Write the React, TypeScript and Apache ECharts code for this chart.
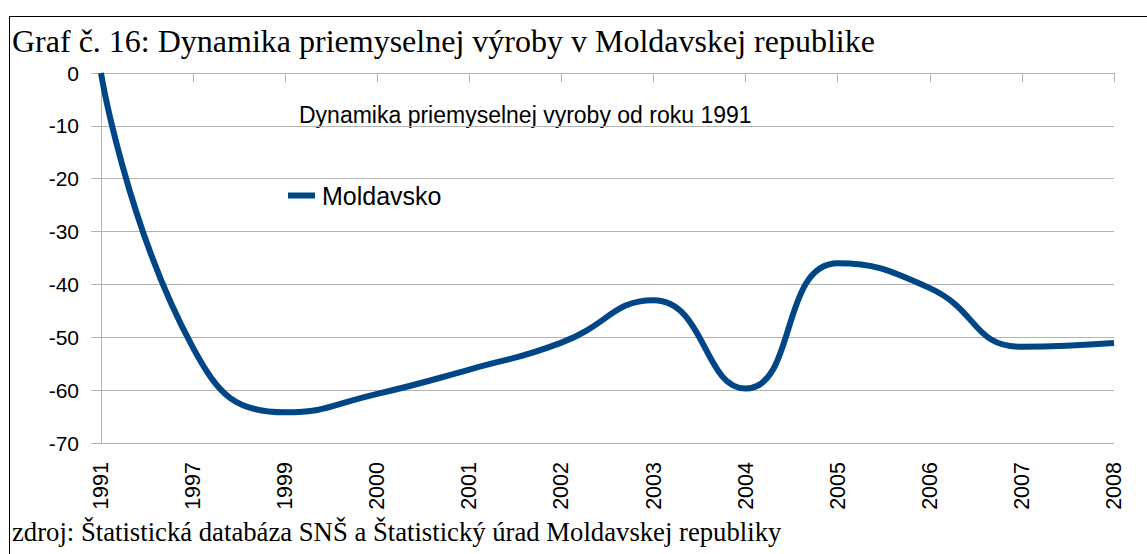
import React, { useEffect, useRef } from "react";
import * as echarts from "echarts";

const categories = ["1991", "1997", "1999", "2000", "2001", "2002", "2003", "2004", "2005", "2006", "2007", "2008"];
const moldavsko = [0, -52, -64.2, -60.7, -56.1, -51, -43, -59.7, -36, -40.7, -51.8, -51.1];
const seriesName = "Moldavsko";
const yMin = -70;
const yMax = 0;
const yStep = 10;
const titleText = "Graf č. 16: Dynamika priemyselnej výroby v Moldavskej republike";
const subtitleText = "Dynamika priemyselnej vyroby od roku 1991";
const sourceText = "zdroj: Štatistická databáza SNŠ a Štatistický úrad Moldavskej republiky";

export default function App() {
  const ref = useRef<HTMLDivElement>(null);
  useEffect(() => {
    if (!ref.current) return;
    const chart = echarts.init(ref.current, undefined, { renderer: "svg" });
    const sans = "'Liberation Sans', Arial, sans-serif";
    const serif = "'Liberation Serif', 'Times New Roman', serif";
    chart.setOption({
      animation: false,
      backgroundColor: "#ffffff",
      grid: { left: 101, right: 33, top: 73, bottom: 111, containLabel: false },
      legend: {
        left: 288,
        top: 183,
        padding: 0,
        icon: "rect",
        itemWidth: 27,
        itemHeight: 6,
        textStyle: { fontFamily: sans, fontSize: 25, color: "#000", padding: [0, 0, 0, 2] },
        data: [seriesName],
      },
      xAxis: {
        type: "category",
        data: categories,
        boundaryGap: false,
        axisLine: { lineStyle: { color: "#b3b3b3", width: 1 } },
        axisTick: { show: true, length: 9, alignWithLabel: true, interval: 0, lineStyle: { color: "#b3b3b3" } },
        axisLabel: { interval: 0, rotate: 90, margin: 19, fontFamily: sans, fontSize: 21.5, color: "#000" },
        splitLine: { show: false },
      },
      yAxis: {
        type: "value",
        min: yMin,
        max: yMax,
        interval: yStep,
        axisLine: { show: true, lineStyle: { color: "#b3b3b3", width: 1 } },
        axisTick: { show: true, length: 10, lineStyle: { color: "#b3b3b3" } },
        axisLabel: { margin: 22, fontFamily: sans, fontSize: 21, color: "#000" },
        splitLine: { show: true, lineStyle: { color: "#b3b3b3", width: 1 } },
      },
      series: [
        {
          name: seriesName,
          type: "line",
          data: moldavsko,
          smooth: 0.5,
          symbol: "none",
          showSymbol: false,
          lineStyle: { color: "#004586", width: 6 },
          itemStyle: { color: "#004586" },
        },
      ],
      graphic: [
        { type: "line", shape: { x1: 9, y1: 16.5, x2: 1147, y2: 16.5 }, style: { stroke: "#000", lineWidth: 1 } },
        { type: "line", shape: { x1: 9.5, y1: 16, x2: 9.5, y2: 554 }, style: { stroke: "#000", lineWidth: 1 } },
        {
          type: "text",
          x: 12,
          y: 41,
          style: { text: titleText, font: `32px ${serif}`, fill: "#000", verticalAlign: "middle", align: "left" },
        },
        {
          type: "text",
          x: 299,
          y: 115,
          style: { text: subtitleText, font: `23px ${sans}`, fill: "#000", verticalAlign: "middle", align: "left" },
        },
        {
          type: "text",
          x: 12,
          y: 532,
          style: { text: sourceText, font: `26.7px ${serif}`, fill: "#000", verticalAlign: "middle", align: "left" },
        },
      ],
    });
    return () => chart.dispose();
  }, []);
  return (
    <div
      ref={ref}
      style={{ position: "fixed", left: 0, top: 0, width: 1147, height: 554, background: "#fff" }}
    />
  );
}
